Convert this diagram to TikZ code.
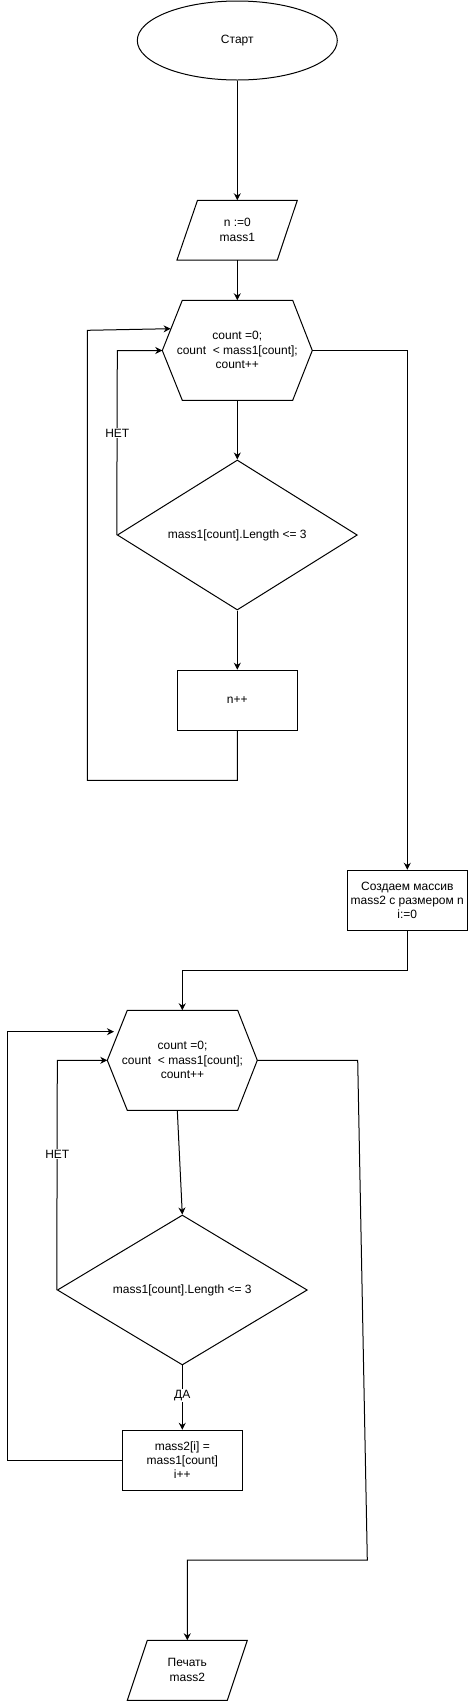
\documentclass[tikz,border=0pt]{standalone}
\usepackage{fontspec}
\setmainfont{Liberation Sans}
\usetikzlibrary{shapes.geometric,arrows.meta}
\tikzset{
  lbl/.style={font=\fontsize{12}{14.3}\selectfont, align=center, inner sep=0pt},
  box/.style={draw, rectangle, minimum width=120pt, minimum height=60pt, inner sep=0pt, lbl},
  dia/.style={draw, diamond, inner sep=0pt, lbl},
  outline/.style={draw, line join=miter},
  conn/.style={-{Stealth[length=7pt,width=7pt,inset=2.2pt]}, line join=miter},
  tag/.style={lbl, fill=white, inner sep=1pt}
}
\begin{document}
\begin{tikzpicture}[x=1pt,y=-1pt, line width=1pt]
\useasboundingbox (0,0) rectangle (468,1701);

% start
\node[draw, ellipse, minimum width=200pt, minimum height=79pt, inner sep=0pt, lbl] (start) at (237.3,40.5) {Старт};

% input 1
\draw[outline] (177,260) -- (197.5,200.3) -- (297.3,200.3) -- (277.3,260) -- cycle;
\node[lbl] (in1) at (237.3,230) {n :=0\\mass1};
\coordinate (in1t) at (237.3,200.3);
\coordinate (in1b) at (237.3,260);

% hexagon 1
\draw[outline] (162.3,350.5) -- (182.3,300.3) -- (292.7,300.3) -- (312.3,350.5) -- (292.7,400.3) -- (182.3,400.3) -- cycle;
\node[lbl] (hex1) at (237.3,350) {count =0;\\count~ < mass1[count];\\count++};
\coordinate (h1t) at (237.3,300.3);
\coordinate (h1b) at (237.3,400.3);
\coordinate (h1w) at (162.3,350.5);
\coordinate (h1e) at (312.3,350.5);
\coordinate (h1in) at (170.6,328.7);

% diamond 1
\node[dia, minimum width=240pt, minimum height=150pt] (dia1) at (237.3,535) {mass1[count].Length <= 3};

% n++
\node[box] (r1) at (237.3,700.2) {n++};

% create mass2
\node[box] (r2) at (407.3,900.3) {Создаем массив\\mass2 с размером n\\i:=0};

% hexagon 2
\draw[outline] (107.3,1060.3) -- (127.3,1010.3) -- (237.7,1010.3) -- (257.3,1060.3) -- (237.7,1110.3) -- (127.3,1110.3) -- cycle;
\node[lbl] (hex2) at (182.5,1060) {count =0;\\count~ < mass1[count];\\count++};
\coordinate (h2t) at (182.3,1010.3);
\coordinate (h2b) at (177.3,1110.3);
\coordinate (h2w) at (107.3,1060.3);
\coordinate (h2e) at (257.3,1060.3);
\coordinate (h2in) at (114,1031.7);

% diamond 2
\node[dia, minimum width=250pt, minimum height=140pt] (dia2) at (182.3,1290) {mass1[count].Length <= 3};

% mass2[i]
\node[box] (r3) at (182.3,1460.3) {mass2[i] =\\mass1[count]\\i++};

% output
\draw[outline] (127.3,1700.3) -- (147.3,1640.3) -- (247.3,1640.3) -- (227.3,1700.3) -- cycle;
\node[lbl] (out2) at (187.3,1670) {Печать\\mass2};
\coordinate (o2t) at (187.3,1640.3);

% connectors
\draw[conn] (start.south) -- (in1t);
\draw[conn] (in1b) -- (h1t);
\draw[conn] (h1b) -- (dia1.north);
\draw[conn] (dia1.south) -- (r1.north);
\draw[conn] (r1.south) -- (237.3,780.3) -- (87.3,780.3) -- (87.3,330.3) -- (h1in);
\draw[conn] (dia1.west) -- (117.3,350.5) -- (h1w);
\node[tag] (net1) at (117.3,433.3) {НЕТ};
\draw[conn] (h1e) -- (407.3,350.5) -- (r2.north);
\draw[conn] (r2.south) -- (407.3,970) -- (182.3,970) -- (h2t);
\draw[conn] (h2b) -- (dia2.north);
\draw[conn] (dia2.west) -- (57.3,1060.3) -- (h2w);
\node[tag] (net2) at (57.3,1154) {НЕТ};
\draw[conn] (dia2.south) -- (r3.north);
\node[tag] (da) at (182.3,1395.3) {ДА};
\draw[conn] (r3.west) -- (7.3,1460.3) -- (7.3,1031.7) -- (h2in);
\draw[conn] (h2e) -- (357.7,1060.3) -- (367.3,1560) -- (187.3,1560) -- (o2t);
\end{tikzpicture}
\end{document}
